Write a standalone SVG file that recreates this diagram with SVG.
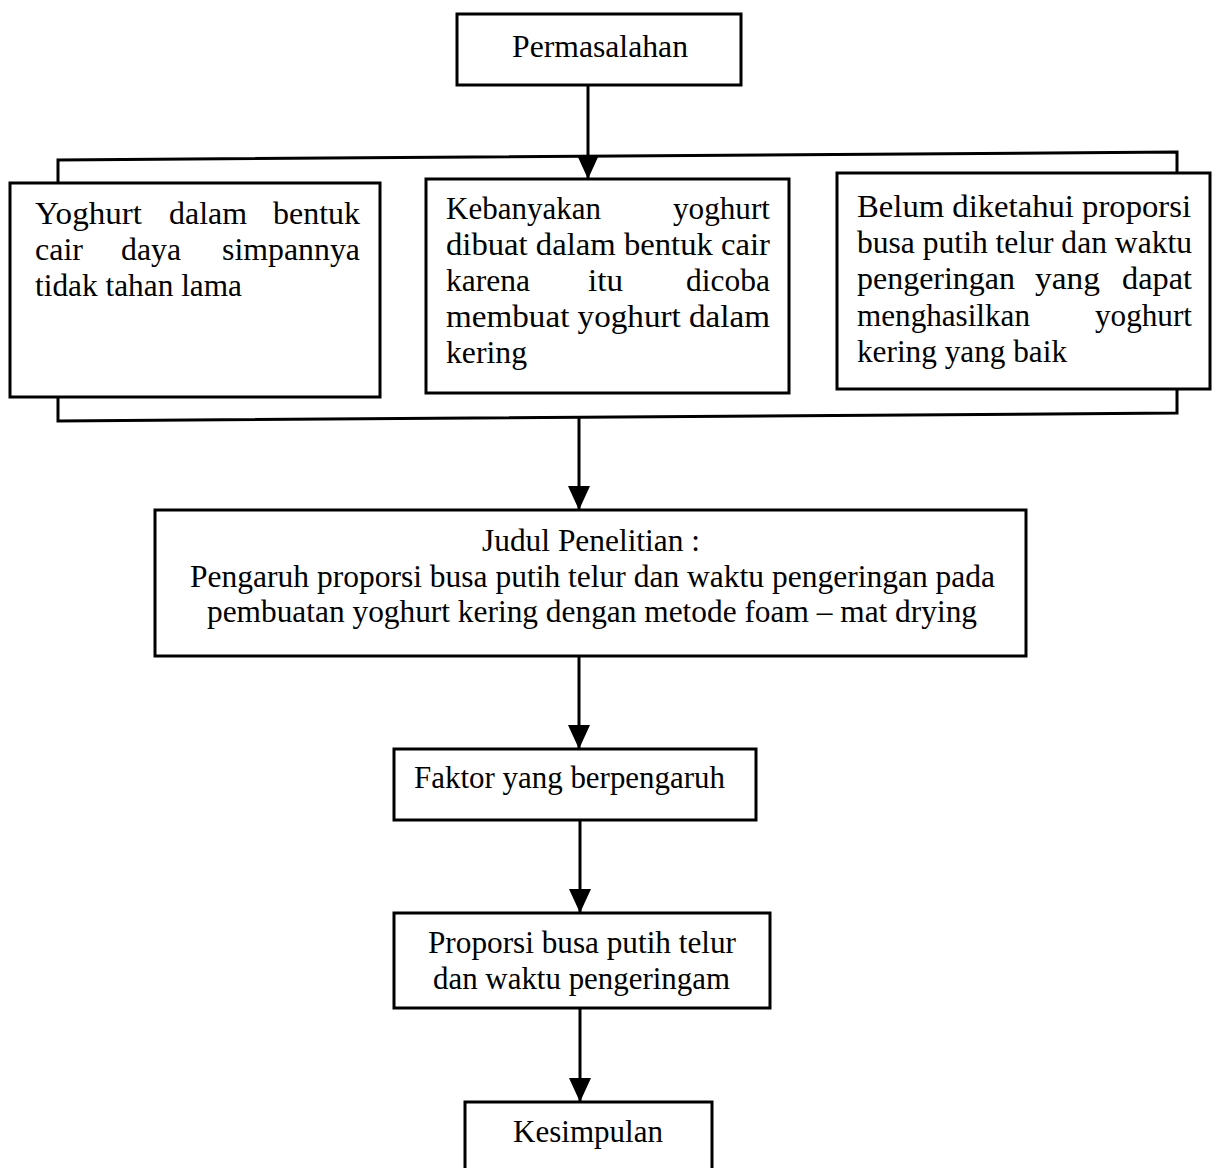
<svg xmlns="http://www.w3.org/2000/svg" width="1216" height="1168" viewBox="0 0 1216 1168">
<style>
.box{fill:#fff;stroke:#000;stroke-width:3}
.ln{fill:none;stroke:#000;stroke-width:3}
.t{font-family:"Liberation Serif","Times New Roman",serif;font-size:32px;fill:#000}
</style>
<defs>
<marker id="ah" markerUnits="userSpaceOnUse" markerWidth="26" markerHeight="24" refX="24" refY="11" orient="auto">
<path d="M0,0 L24,11 L0,22 z" fill="#000"/>
</marker>
</defs>
<rect width="1216" height="1168" fill="#fff"/>
<g id="connectors">
<polyline class="ln" points="58,183 58,160 1177,152 1177,173"/>
<polyline class="ln" points="58,397 58,421 1177,413 1177,389"/>
<line class="ln" x1="588" y1="85" x2="588" y2="179" marker-end="url(#ah)"/>
<line class="ln" x1="579" y1="416" x2="579" y2="510" marker-end="url(#ah)"/>
<line class="ln" x1="579" y1="656" x2="579" y2="749" marker-end="url(#ah)"/>
<line class="ln" x1="580" y1="820" x2="580" y2="913" marker-end="url(#ah)"/>
<line class="ln" x1="580" y1="1008" x2="580" y2="1102" marker-end="url(#ah)"/>
</g>
<g id="permasalahan">
<rect class="box" x="457" y="14" width="284" height="71"/>
<text class="t" x="512" y="57" textLength="176" lengthAdjust="spacingAndGlyphs">Permasalahan</text>
</g>
<g id="masalah1">
<rect class="box" x="10" y="183" width="370" height="214"/>
<text class="t" y="224"><tspan x="35" textLength="107" lengthAdjust="spacingAndGlyphs">Yoghurt</tspan><tspan x="169" textLength="78" lengthAdjust="spacingAndGlyphs">dalam</tspan><tspan x="273" textLength="87" lengthAdjust="spacingAndGlyphs">bentuk</tspan></text>
<text class="t" y="260"><tspan x="35" textLength="48" lengthAdjust="spacingAndGlyphs">cair</tspan><tspan x="121" textLength="60" lengthAdjust="spacingAndGlyphs">daya</tspan><tspan x="222" textLength="138" lengthAdjust="spacingAndGlyphs">simpannya</tspan></text>
<text class="t" x="35" y="296" textLength="207" lengthAdjust="spacingAndGlyphs">tidak tahan lama</text>
</g>
<g id="masalah2">
<rect class="box" x="426" y="179" width="363" height="214"/>
<text class="t" y="219"><tspan x="446" textLength="155" lengthAdjust="spacingAndGlyphs">Kebanyakan</tspan><tspan x="673" textLength="97" lengthAdjust="spacingAndGlyphs">yoghurt</tspan></text>
<text class="t" x="446" y="255" textLength="324" lengthAdjust="spacingAndGlyphs">dibuat dalam bentuk cair</text>
<text class="t" y="291"><tspan x="446" textLength="84" lengthAdjust="spacingAndGlyphs">karena</tspan><tspan x="588" textLength="35" lengthAdjust="spacingAndGlyphs">itu</tspan><tspan x="686" textLength="84" lengthAdjust="spacingAndGlyphs">dicoba</tspan></text>
<text class="t" x="446" y="327" textLength="324" lengthAdjust="spacingAndGlyphs">membuat yoghurt dalam</text>
<text class="t" x="446" y="363" textLength="81" lengthAdjust="spacingAndGlyphs">kering</text>
</g>
<g id="masalah3">
<rect class="box" x="837" y="173" width="373" height="216"/>
<text class="t" x="857" y="217" textLength="334" lengthAdjust="spacingAndGlyphs">Belum diketahui proporsi</text>
<text class="t" x="857" y="253" textLength="335" lengthAdjust="spacingAndGlyphs">busa putih telur dan waktu</text>
<text class="t" y="289"><tspan x="857" textLength="158" lengthAdjust="spacingAndGlyphs">pengeringan</tspan><tspan x="1035" textLength="65" lengthAdjust="spacingAndGlyphs">yang</tspan><tspan x="1122" textLength="70" lengthAdjust="spacingAndGlyphs">dapat</tspan></text>
<text class="t" y="326"><tspan x="857" textLength="173" lengthAdjust="spacingAndGlyphs">menghasilkan</tspan><tspan x="1095" textLength="97" lengthAdjust="spacingAndGlyphs">yoghurt</tspan></text>
<text class="t" x="857" y="362" textLength="210" lengthAdjust="spacingAndGlyphs">kering yang baik</text>
</g>
<g id="judul">
<rect class="box" x="155" y="510" width="871" height="146"/>
<text class="t" x="482" y="551" textLength="218" lengthAdjust="spacingAndGlyphs">Judul Penelitian :</text>
<text class="t" x="190" y="587" textLength="805" lengthAdjust="spacingAndGlyphs">Pengaruh proporsi busa putih telur dan waktu pengeringan pada</text>
<text class="t" x="207" y="622" textLength="770" lengthAdjust="spacingAndGlyphs">pembuatan yoghurt kering dengan metode foam – mat drying</text>
</g>
<g id="faktor">
<rect class="box" x="394" y="749" width="362" height="71"/>
<text class="t" x="414" y="788" textLength="311" lengthAdjust="spacingAndGlyphs">Faktor yang berpengaruh</text>
</g>
<g id="proporsi">
<rect class="box" x="394" y="913" width="376" height="95"/>
<text class="t" x="428" y="953" textLength="308" lengthAdjust="spacingAndGlyphs">Proporsi busa putih telur</text>
<text class="t" x="433" y="989" textLength="297" lengthAdjust="spacingAndGlyphs">dan waktu pengeringam</text>
</g>
<g id="kesimpulan">
<rect class="box" x="465" y="1102" width="247" height="80"/>
<text class="t" x="513" y="1142" textLength="150" lengthAdjust="spacingAndGlyphs">Kesimpulan</text>
</g>
</svg>
